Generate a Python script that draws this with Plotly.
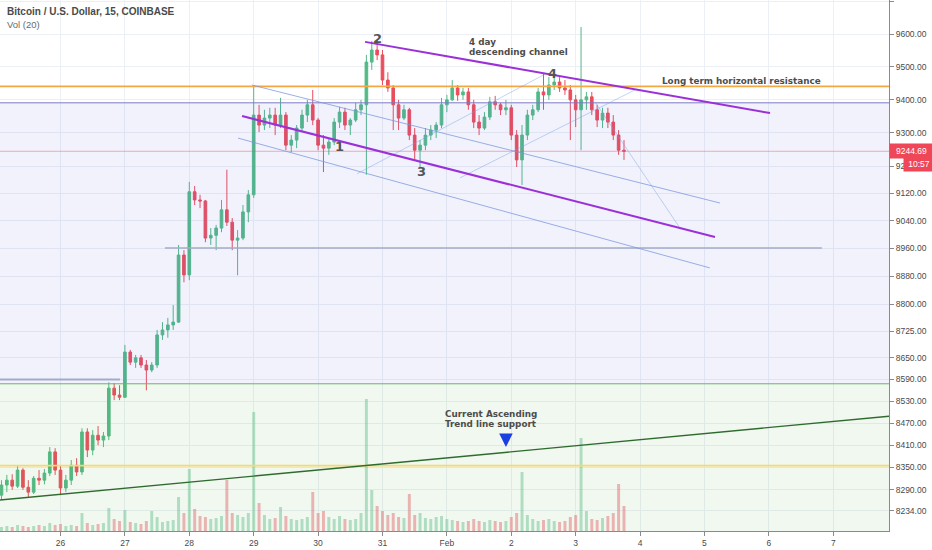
import numpy as np
import pandas as pd
import plotly.graph_objects as go

# BTC/USD Coinbase, 15m chart re-read as 2h candles
times = pd.date_range('2020-01-25 02:00', periods=117, freq='2h')

first_open = 8276
highs = [8316, 8330, 8332, 8356, 8348, 8316, 8327, 8343, 8346, 8405,
         8402, 8356, 8330, 8370, 8375, 8456, 8456, 8451, 8462, 8446,
         8582, 8580, 8574, 8686, 8672, 8658, 8658, 8644, 8638, 8728,
         8750, 8762, 8798, 8970, 8955, 9154, 9142, 9116, 9101, 9019,
         9028, 9101, 9190, 9048, 9013, 9086, 9130, 9444, 9384, 9369,
         9375, 9375, 9405, 9362, 9293, 9323, 9369, 9399, 9429, 9344,
         9293, 9284, 9344, 9378, 9375, 9344, 9390, 9399, 9536, 9579,
         9582, 9551, 9483, 9444, 9399, 9384, 9375, 9314, 9278, 9314,
         9323, 9332, 9405, 9414, 9459, 9444, 9435, 9435, 9399, 9353,
         9362, 9408, 9411, 9390, 9399, 9384, 9308, 9323, 9369, 9384,
         9435, 9480, 9468, 9471, 9468, 9459, 9444, 9414, 9622, 9423,
         9423, 9384, 9375, 9375, 9353, 9308, 9278]
lows = [8263, 8284, 8290, 8295, 8290, 8271, 8279, 8303, 8305, 8327,
        8330, 8276, 8284, 8303, 8327, 8330, 8378, 8383, 8410, 8405,
        8424, 8533, 8533, 8539, 8630, 8622, 8622, 8560, 8610, 8622,
        8700, 8706, 8728, 8748, 8863, 8869, 9086, 9077, 8978, 8970,
        8955, 9007, 9025, 8955, 8883, 8984, 9036, 9107, 9302, 9308,
        9314, 9293, 9314, 9248, 9242, 9254, 9302, 9332, 9323, 9248,
        9183, 9234, 9263, 9314, 9308, 9293, 9332, 9353, 9175, 9490,
        9520, 9444, 9423, 9308, 9308, 9338, 9278, 9219, 9198, 9248,
        9278, 9284, 9314, 9362, 9396, 9396, 9399, 9369, 9314, 9293,
        9308, 9338, 9369, 9353, 9353, 9278, 9198, 9145, 9278, 9338,
        9362, 9369, 9399, 9429, 9423, 9414, 9278, 9317, 9248, 9369,
        9353, 9317, 9314, 9314, 9278, 9234, 9219]
closes = [8303, 8316, 8300, 8343, 8297, 8284, 8321, 8316, 8335, 8392,
          8343, 8295, 8316, 8356, 8338, 8446, 8397, 8437, 8424, 8435,
          8566, 8547, 8541, 8666, 8638, 8650, 8630, 8616, 8630, 8714,
          8728, 8742, 8750, 8941, 8884, 9125, 9101, 9098, 8990, 8998,
          9019, 9072, 9036, 8984, 8990, 9066, 9116, 9353, 9323, 9344,
          9353, 9323, 9353, 9263, 9278, 9314, 9353, 9384, 9338, 9263,
          9254, 9272, 9332, 9362, 9323, 9338, 9369, 9384, 9514, 9551,
          9536, 9459, 9435, 9384, 9344, 9369, 9293, 9248, 9263, 9293,
          9308, 9323, 9384, 9399, 9435, 9414, 9423, 9384, 9332, 9314,
          9347, 9393, 9384, 9369, 9375, 9293, 9219, 9293, 9353, 9369,
          9423, 9414, 9444, 9453, 9435, 9429, 9399, 9369, 9399, 9408,
          9369, 9338, 9359, 9332, 9293, 9248, 9244.69]
volumes = [40, 50, 40, 60, 50, 40, 50, 60, 50, 80,
           60, 70, 50, 60, 50, 180, 80, 60, 70, 80,
           230, 120, 100, 210, 90, 80, 70, 100, 200, 140,
           90, 100, 110, 340, 180, 620, 220, 150, 140, 120,
           130, 150, 510, 180, 160, 140, 180, 1190, 280, 160,
           120, 130, 240, 150, 120, 110, 120, 140, 390, 180,
           200, 140, 120, 150, 120, 110, 120, 180, 1320, 410,
           250, 200, 160, 180, 140, 130, 370, 160, 180, 130,
           120, 140, 150, 120, 110, 100, 90, 100, 120, 100,
           90, 110, 100, 90, 100, 140, 180, 590, 160, 120,
           100, 110, 120, 100, 90, 100, 140, 160, 930, 200,
           120, 110, 130, 150, 180, 470, 250]

opens = [first_open] + closes[:-1]

x_start, x_end = '2020-01-25 01:27', '2020-02-07 20:46'

# horizontal levels
resistance = 9440
zone_top = 9390
zone_bottom = 8578
yellow_level = 8355
last_price = closes[-1]

# drawn lines (time, price)
upper_channel = (['2020-01-30 17:30', '2020-02-06 00:25'], [9576, 9359])
mid_channel = (['2020-01-28 19:40', '2020-02-05 03:55'], [9350, 8993])
blue_upper = (['2020-01-28 23:20', '2020-02-05 05:45'], [9444, 9092])
blue_lower = (['2020-01-28 18:10', '2020-02-05 02:00'], [9284, 8904])
fan_1 = (['2020-01-30 14:30', '2020-02-02 12:35'], [9178, 9477])
fan_2 = (['2020-02-01 04:53', '2020-02-03 22:50'], [9166, 9432])
fan_3 = (['2020-02-03 07:12', '2020-02-04 14:52'], [9393, 9019])
support_line = ([x_start, x_end], [8263, 8489])
gray_8960 = (['2020-01-27 14:55', '2020-02-06 19:45'], [8961, 8961])
gray_left = ([x_start, '2020-01-26 22:10'], [8590, 8590])

price_ticks = [9700, 9600, 9500, 9400, 9300, 9200, 9120, 9040, 8960, 8880,
               8800, 8725, 8650, 8590, 8530, 8470, 8410, 8350, 8290, 8234]
day_ticks = pd.date_range('2020-01-26', '2020-02-07', freq='D')
day_labels = ['26', '27', '28', '29', '30', '31', 'Feb', '2', '3', '4', '5', '6', '7']

up_col, down_col = '#53b987', '#eb4d5c'
vol_colors = ['rgba(83,185,135,0.42)' if c >= o else 'rgba(235,77,92,0.42)'
              for o, c in zip(opens, closes)]

fig = go.Figure()

# volume underneath everything (own hidden axis)
fig.add_trace(go.Bar(x=times, y=volumes, marker_color=vol_colors, marker_line_width=0,
                     width=0.55 * 2 * 3600 * 1000, yaxis='y', hoverinfo='skip'))

# shaded zones
fig.add_trace(go.Scatter(x=[x_start, x_end, x_end, x_start],
                         y=[zone_bottom, zone_bottom, zone_top, zone_top],
                         fill='toself', fillcolor='rgba(100,110,220,0.09)', mode='lines',
                         line_width=0, yaxis='y2', hoverinfo='skip'))
fig.add_trace(go.Scatter(x=[x_start, x_end, x_end, x_start],
                         y=[8100, 8100, zone_bottom, zone_bottom],
                         fill='toself', fillcolor='rgba(100,180,80,0.09)', mode='lines',
                         line_width=0, yaxis='y2', hoverinfo='skip'))

fig.add_trace(go.Candlestick(x=times, open=opens, high=highs, low=lows, close=closes,
                             increasing=dict(line=dict(color=up_col, width=1), fillcolor=up_col),
                             decreasing=dict(line=dict(color=down_col, width=1), fillcolor=down_col),
                             whiskerwidth=0, yaxis='y2', hoverinfo='skip'))


def add_line(line, color, width):
    fig.add_trace(go.Scatter(x=line[0], y=line[1], mode='lines',
                             line=dict(color=color, width=width),
                             yaxis='y2', hoverinfo='skip'))


def add_level(price, color, width):
    add_line(([x_start, x_end], [price, price]), color, width)


add_level(last_price, 'rgba(240,80,100,0.45)', 1)
add_level(resistance, '#f5a742', 1.6)
add_level(zone_top, '#7e79c6', 1)
add_level(zone_bottom, '#6ab46a', 1)
add_level(yellow_level, '#f8d86a', 1.6)
add_line(gray_left, '#a3abc9', 2)
add_line(gray_8960, '#a3abc9', 1.5)
add_line(support_line, '#2f6b2f', 1.4)
add_line(fan_1, 'rgba(120,160,230,0.45)', 1)
add_line(fan_2, 'rgba(120,160,230,0.45)', 1)
add_line(fan_3, 'rgba(120,160,230,0.45)', 1)
add_line(blue_upper, 'rgba(120,150,220,0.75)', 1)
add_line(blue_lower, 'rgba(120,150,220,0.75)', 1)
add_line(upper_channel, '#9b30d9', 2)
add_line(mid_channel, '#9b30d9', 2)

txt_font = dict(family='DejaVu Sans', size=8.8, color='#4d4d4d')
num_font = dict(family='DejaVu Sans', size=13, color='#555555')


def note(text, x, price, font, xanchor='left'):
    fig.add_annotation(text=text, x=x, y=np.log10(price), xref='x', yref='y2',
                       showarrow=False, xanchor=xanchor, yanchor='middle', font=font)


note('<b>4 day</b>', '2020-02-01 07:30', 9576, txt_font)
note('<b>descending channel</b>', '2020-02-01 07:30', 9546, txt_font)
note('<b>Long term horizontal resistance</b>', '2020-02-04 07:25', 9456, txt_font)
note('<b>Current Ascending</b>', '2020-01-31 22:30', 8494, txt_font)
note('<b>Trend line support</b>', '2020-01-31 22:30', 8469, txt_font)
note('<b>1</b>', '2020-01-30 07:48', 9260, num_font, 'center')
note('<b>2</b>', '2020-01-30 22:18', 9585, num_font, 'center')
note('<b>3</b>', '2020-01-31 14:42', 9184, num_font, 'center')
note('<b>4</b>', '2020-02-02 15:30', 9480, num_font, 'center')

# blue arrow pointing at the trend line
fig.add_annotation(x='2020-02-01 22:00', y=np.log10(8405), xref='x', yref='y2', text='',
                   showarrow=True, ax=0, ay=-13, arrowhead=2, arrowsize=0.9,
                   arrowwidth=3, arrowcolor='#1c3fe0')

# legend texts top-left
fig.add_annotation(text='<b>Bitcoin / U.S. Dollar, 15, COINBASE</b>', x=0, y=1, xref='paper',
                   yref='paper', xanchor='left', yanchor='middle', xshift=5, yshift=-11.5,
                   showarrow=False, font=dict(family='Liberation Sans', size=10, color='#4a4a4a'))
fig.add_annotation(text='Vol (20)', x=0, y=1, xref='paper', yref='paper', xanchor='left',
                   yanchor='middle', xshift=5, yshift=-24, showarrow=False,
                   font=dict(family='Liberation Sans', size=9.5, color='#6a6a6a'))

# last price / countdown labels on the axis
fig.add_annotation(text='9244.69', x=1, y=np.log10(last_price), xref='paper', yref='y2',
                   xanchor='left', yanchor='middle', showarrow=False, bgcolor='#ef4658',
                   width=41, height=12, xshift=0,
                   font=dict(family='Liberation Sans', size=8.5, color='white'))
fig.add_annotation(text='10:57', x=1, y=np.log10(last_price), xref='paper', yref='y2',
                   xanchor='left', yanchor='middle', showarrow=False, bgcolor='#ef4658',
                   width=28, height=12, xshift=14, yshift=-13,
                   font=dict(family='Liberation Sans', size=8.5, color='white'))

axis_font = dict(family='Liberation Sans', size=8.5, color='#4a4a4a')
fig.update_layout(
    width=932, height=550,
    margin=dict(l=0, r=43, t=0, b=19),
    paper_bgcolor='white', plot_bgcolor='white',
    showlegend=False,
    xaxis=dict(type='date', range=[x_start, x_end], rangeslider_visible=False,
               tickvals=day_ticks, ticktext=day_labels, showgrid=True, gridcolor='#eceff5',
               showline=True, linecolor='#8a8a8a', ticks='outside', ticklen=4,
               tickcolor='#8a8a8a', tickfont=axis_font, zeroline=False),
    yaxis=dict(range=[0, 5310], visible=False),
    yaxis2=dict(type='log', overlaying='y', side='right',
                range=[np.log10(8181), np.log10(9706)],
                tickvals=price_ticks, ticktext=[f'{v:.2f}' for v in price_ticks],
                showgrid=True, gridcolor='#eceff5', showline=True, linecolor='#8a8a8a',
                ticks='outside', ticklen=4, tickcolor='#8a8a8a', tickfont=axis_font,
                zeroline=False),
)

# page has a default 8px body margin, drop it so the chart sits at 0,0
fig.write_html('out.html', config={'displayModeBar': False},
               post_script="document.body.style.margin='0';")
